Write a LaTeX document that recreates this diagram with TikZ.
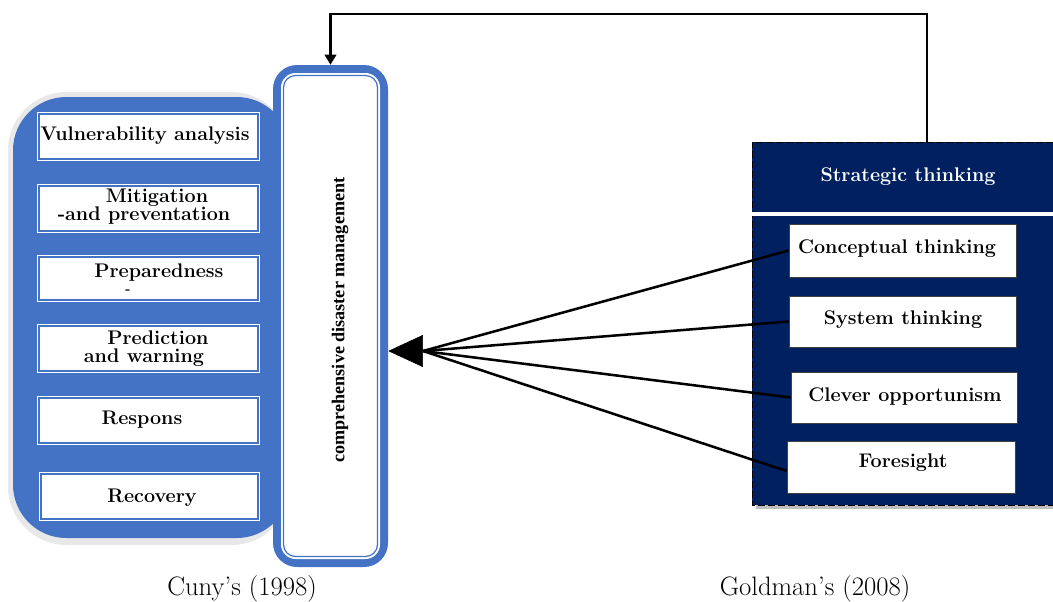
\documentclass[tikz,border=0pt]{standalone}
\usepackage{fontspec}
\newfontfamily\timesfont{Liberation Serif}
\usetikzlibrary{arrows.meta,fit,calc}
\definecolor{cblue}{HTML}{4472C4}
\definecolor{navy}{HTML}{002060}
\definecolor{halo}{HTML}{E8E8E8}
\begin{document}
\begin{tikzpicture}[x=0.75pt,y=-0.75pt,
  lbox/.style={fill=white, draw=cblue, line width=1.1pt, inner sep=0pt,
     preaction={draw=white, line width=3.6pt}},
  rbox/.style={fill=white, draw=black!75, line width=0.6pt, inner sep=0pt},
  btext/.style={font=\fontsize{14.8}{13.4}\selectfont\bfseries, align=center, inner sep=0pt},
  spoke/.style={line width=1.9pt, black},
  capt/.style={font=\fontsize{20}{22}\selectfont, inner sep=0pt}]
\useasboundingbox (0,0) rectangle (1053,601);

% left panel with halo
\fill[halo, rounded corners=44] (8,92) rectangle (290,545);
\fill[cblue, rounded corners=40] (13,97) rectangle (290,538);

% vertical box
\node[fit={(273,65) (388,567)}, inner sep=0pt, fill=cblue, rounded corners=18] (vbox) {};
\fill[white, rounded corners=11] (281,73) rectangle (380,559);
\draw[cblue, line width=0.9pt, rounded corners=9] (283.5,75.5) rectangle (377.5,556.5);
\node[rotate=90, font=\timesfont\fontsize{13.6}{15}\selectfont\bfseries] (vtext) at (340,320) {comprehensive disaster management};

% left boxes
\node[lbox, fit={(39,114) (258,159)}] (b1) {};
\node[btext] (t1) at (145,136) {Vulnerability analysis};
\node[lbox, fit={(39,186) (258,231)}] (b2) {};
\node[btext] (t2) at (144,207) {\hspace*{19.5pt}Mitigation\\-and preventation};
\node[lbox, fit={(39,257) (258,300)}] (b3) {};
\node[btext] (t3) at (159,273) {Preparedness};
\node[font=\fontsize{10}{10}\selectfont\bfseries, inner sep=0pt] (t3b) at (128,292) {-};
\node[lbox, fit={(39,326) (258,371)}] (b4) {};
\node[btext] (t4) at (144,349) {\hspace*{21pt}Prediction\\and warning};
\node[lbox, fit={(39,398) (258,443)}] (b5) {};
\node[btext] (t5) at (142,420) {Respons};
\node[lbox, fit={(41,474) (258,519)}] (b6) {};
\node[btext] (t6) at (152,498) {Recovery};

% right panel
\fill[black!25] (756,505) rectangle (1053,509);
\node[fit={(752,142) (1053,505)}, inner sep=0pt, fill=navy] (rpanel) {};
\draw[line width=0.7pt, dash pattern=on 5pt off 2.5pt] (1053,142) -- (752,142) -- (752,505) -- (1053,505);
\fill[white] (752,211.5) rectangle (1053,215.5);
\node[btext, text=white] (st) at (908,177) {Strategic thinking};

\node[rbox, fit={(789,224) (1016,277)}] (c1) {};
\node[btext] (u1) at (897,249) {Conceptual thinking};
\node[rbox, fit={(789,296) (1016,347)}] (c2) {};
\node[btext] (u2) at (903,320) {System thinking};
\node[rbox, fit={(791,372) (1017,423)}] (c3) {};
\node[btext] (u3) at (905,397) {Clever opportunism};
\node[rbox, fit={(787,441) (1015,493)}] (c4) {};
\node[btext] (u4) at (903,463) {Foresight};

% spokes and arrow
\coordinate (hub) at (423,351);
\draw[spoke] (c1.west) -- (hub);
\draw[spoke] (c2.west) -- (hub);
\draw[spoke] (c3.west) -- (hub);
\draw[spoke] ($(c4.west)+(0,4)$) -- (hub);
\draw[line width=0.5pt, -{Triangle[length=26pt,width=24pt]}] (hub) -- (vbox.east |- hub);

% feedback arrow
\coordinate (fbtop) at (927,14);
\draw[line width=2.2pt, -{Triangle[length=7.5pt,width=8.5pt]}] (rpanel.north -| fbtop) -- (fbtop) -| (vbox.north);

% captions
\node[capt] (cap1) at (242,589) {Cuny’s (1998)};
\node[capt] (cap2) at (815,589) {Goldman’s (2008)};
\end{tikzpicture}
\end{document}
